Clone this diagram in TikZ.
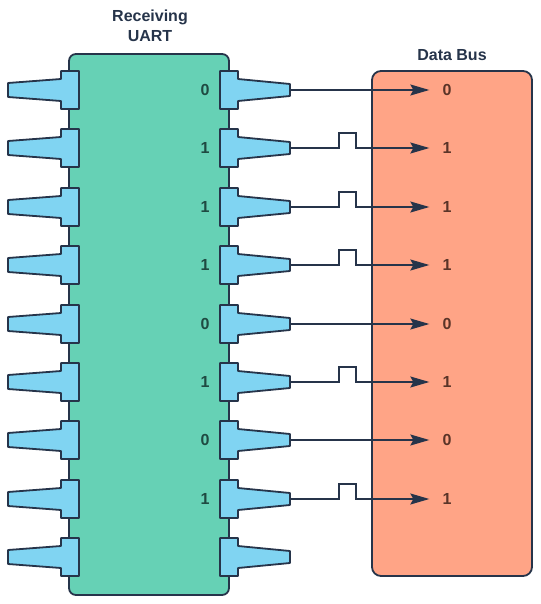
\documentclass[tikz,border=0pt]{standalone}
\usepackage{fontspec}
\setmainfont{Liberation Sans}
\usetikzlibrary{arrows.meta}
\definecolor{uartfill}{HTML}{66D1B5}
\definecolor{pinfill}{HTML}{80D4F2}
\definecolor{busfill}{HTML}{FFA486}
\definecolor{inkline}{HTML}{26344A}
\definecolor{uartbit}{HTML}{1F4A42}
\definecolor{busbit}{HTML}{5A3428}
\tikzset{
  outline/.style={draw=inkline, line width=1.8pt, line join=round},
  title/.style={font=\bfseries\fontsize{16}{20}\selectfont, text=inkline, align=center},
  uartlbl/.style={font=\bfseries\fontsize{16}{18}\selectfont, text=uartbit},
  buslbl/.style={font=\bfseries\fontsize{16}{18}\selectfont, text=busbit, inner sep=1pt},
  signal/.style={draw=inkline, line width=1.6pt, -{Stealth[length=19pt,width=11pt,inset=3pt]}, shorten >=12pt},
  pinL/.pic={\draw[outline, fill=pinfill] (79,-19) -- (61,-19) -- (61,-11) -- (8,-7) -- (8,7) -- (61,11) -- (61,19) -- (79,19) -- cycle;},
  pinR/.pic={\draw[outline, fill=pinfill] (220,-19) -- (238,-19) -- (238,-11) -- (290,-6) -- (290,6) -- (238,11) -- (238,19) -- (220,19) -- cycle;}
}
\begin{document}
\begin{tikzpicture}[x=1pt, y=-1pt]
\useasboundingbox (0,0) rectangle (540,604);
\node[title] (uarttitle) at (150,26) {Receiving\\UART};
\node[title] (bustitle) at (452,55) {Data Bus};
\draw[outline, fill=uartfill, rounded corners=7pt] (69,54) rectangle (229,595);
\draw[outline, fill=busfill, rounded corners=9pt] (372,71) rectangle (532,576);
\foreach \y in {90,148,207,265,324,382,440,499,557}
  \pic at (0,\y) {pinL} pic at (0,\y) {pinR};
\node[uartlbl] (u1) at (205,90) {0};
\node[uartlbl] (u2) at (205,148) {1};
\node[uartlbl] (u3) at (205,207) {1};
\node[uartlbl] (u4) at (205,265) {1};
\node[uartlbl] (u5) at (205,324) {0};
\node[uartlbl] (u6) at (205,382) {1};
\node[uartlbl] (u7) at (205,440) {0};
\node[uartlbl] (u8) at (205,499) {1};
\coordinate (o1) at (290,90);
\coordinate (o2) at (290,148);
\coordinate (o3) at (290,207);
\coordinate (o4) at (290,265);
\coordinate (o5) at (290,324);
\coordinate (o6) at (290,382);
\coordinate (o7) at (290,440);
\coordinate (o8) at (290,499);
\node[buslbl] (b1) at (447,90) {0};
\node[buslbl] (b2) at (447,148) {1};
\node[buslbl] (b3) at (447,207) {1};
\node[buslbl] (b4) at (447,265) {1};
\node[buslbl] (b5) at (447,324) {0};
\node[buslbl] (b6) at (447,382) {1};
\node[buslbl] (b7) at (447,440) {0};
\node[buslbl] (b8) at (447,499) {1};
\draw[signal] (o1) -- (b1.west);
\draw[signal] (o2) -- ++(49,0) -- ++(0,-15) -- ++(17,0) -- ++(0,15) -- (b2.west);
\draw[signal] (o3) -- ++(49,0) -- ++(0,-15) -- ++(17,0) -- ++(0,15) -- (b3.west);
\draw[signal] (o4) -- ++(49,0) -- ++(0,-15) -- ++(17,0) -- ++(0,15) -- (b4.west);
\draw[signal] (o5) -- (b5.west);
\draw[signal] (o6) -- ++(49,0) -- ++(0,-15) -- ++(17,0) -- ++(0,15) -- (b6.west);
\draw[signal] (o7) -- (b7.west);
\draw[signal] (o8) -- ++(49,0) -- ++(0,-15) -- ++(17,0) -- ++(0,15) -- (b8.west);
\end{tikzpicture}
\end{document}
